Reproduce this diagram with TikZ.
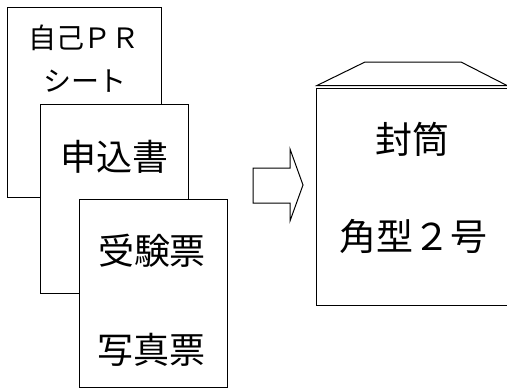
\documentclass[tikz,border=0pt]{standalone}
\usepackage{fontspec}
\setmainfont{Noto Sans CJK JP}

\tikzset{
  sheet/.style={draw, fill=white, line width=1pt, inner sep=0pt},
  small/.style={font=\fontsize{28pt}{28pt}\selectfont},
  big/.style={font=\fontsize{36pt}{36pt}\selectfont},
  env/.style={font=\fontsize{37pt}{37pt}\selectfont},
}

\begin{document}
\begin{tikzpicture}[x=1pt, y=-1pt, line width=1pt]
    \useasboundingbox (0,0) rectangle (507,389);
    \clip (0,0) rectangle (507,389);
    % three sheets, back to front
    \node[sheet, minimum width=154pt, minimum height=190pt] (pr) at (84,102) {};
    \node[small] (prtop) at (84,37.5) {自己ＰＲ};
    \node[small] (prbot) at (85,81) {シート};
    \node[sheet, minimum width=148pt, minimum height=189pt] (app) at (114,198.5) {};
    \node[big] (apptext) at (114,157) {申込書};
    \node[sheet, minimum width=148pt, minimum height=188pt] (exam) at (153,293) {};
    \node[big] (examtop) at (152,251) {受験票};
    \node[big] (exambot) at (151,350) {写真票};
    % arrow
    \draw[line join=miter] (253,168) -- (290,168) -- (290,149) -- (303,185)
      -- (290,221) -- (290,203) -- (253,203) -- cycle;
    % envelope
    \draw (316,88.5) rectangle (515,305);
    \draw (317,85.5) -- (365,62) -- (461,62) -- (507,85.5) -- cycle;
    \node[env] (envtop) at (412,139) {封筒};
    \node[env] (envbot) at (413,236) {角型２号};
  \end{tikzpicture}
\end{document}
